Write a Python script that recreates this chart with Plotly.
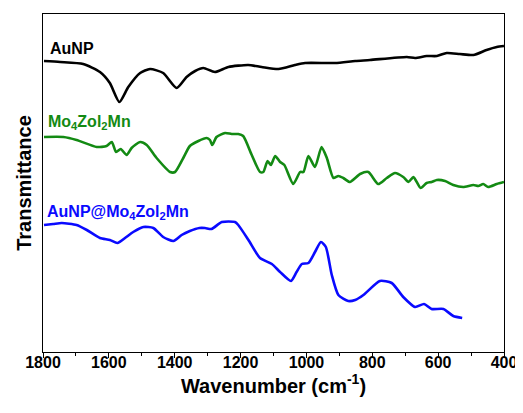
import plotly.graph_objects as go

# AuNP spectrum (wavenumber cm-1, transmittance a.u.)
aunp_wn = [1797, 1748, 1678, 1627, 1597, 1568, 1541, 1505, 1475, 1435, 1394, 1364, 1338, 1313,
           1278, 1237, 1177, 1136, 1085, 1035, 1004, 913, 852, 807, 695, 670, 635, 604, 574,
           534, 493, 453, 422, 400]
aunp_t = [291, 290, 288, 280, 269, 250, 265, 279, 283, 279, 264, 275, 281, 284,
          280, 285, 287, 285, 283, 287, 289, 289, 291, 292, 295, 294, 296, 296, 299,
          298, 297, 302, 305, 306]

# Mo4Zol2Mn spectrum
mo_wn = [1797, 1738, 1698, 1637, 1607, 1591, 1578, 1564, 1546, 1531, 1505, 1485, 1455, 1414,
         1399, 1374, 1354, 1328, 1303, 1293, 1286, 1273, 1247, 1227, 1207, 1192, 1166, 1141,
         1131, 1118, 1108, 1095, 1080, 1067, 1040, 1019, 1009, 994, 974, 954, 938, 918, 903,
         888, 868, 837, 812, 782, 756, 731, 706, 690, 675, 653, 635, 620, 604, 579, 554, 524,
         493, 478, 463, 448, 422, 400]
mo_t = [215, 215, 212, 205, 206, 210, 200, 203, 197, 204, 210, 207, 194, 180,
        180, 194, 206, 211, 214, 212, 207, 215, 219, 218, 218, 216, 197, 180,
        180, 191, 187, 196, 190, 187, 168, 180, 180, 196, 185, 205, 194, 174, 176,
        174, 170, 178, 180, 168, 174, 179, 175, 170, 175, 164, 169, 170, 172, 171, 167, 165,
        167, 166, 168, 165, 168, 170]

# AuNP@Mo4Zol2Mn spectrum
comp_wn = [1797, 1769, 1743, 1698, 1667, 1627, 1597, 1574, 1551, 1526, 1495, 1465, 1435, 1404,
           1379, 1354, 1325, 1308, 1288, 1257, 1217, 1207, 1176, 1141, 1105, 1080, 1047, 1030,
           1014, 994, 974, 956, 941, 923, 903, 873, 852, 827, 777, 741, 706, 670, 643, 620,
           584, 554, 527]
comp_t = [127, 128, 129, 127, 122, 114, 112, 109, 114, 120, 125, 124, 115, 111,
          117, 121, 124, 124, 123, 130, 130, 127, 112, 94, 88, 80, 71, 80,
          88, 89, 100, 110, 105, 77, 57, 51, 52, 57, 71, 69, 55, 45, 48, 43,
          43, 36, 34]

tick_vals = [1800, 1600, 1400, 1200, 1000, 800, 600, 400]

series = [
    ("AuNP", aunp_wn, aunp_t, "#000000"),
    ("Mo<sub>4</sub>Zol<sub>2</sub>Mn", mo_wn, mo_t, "#138a13"),
    ("AuNP@Mo<sub>4</sub>Zol<sub>2</sub>Mn", comp_wn, comp_t, "#0a0aff"),
]

fig = go.Figure()
for name, x, y, c in series:
    fig.add_trace(go.Scatter(x=x, y=y, mode="lines", name=name,
                             line=dict(color=c, width=2.6, shape="spline", smoothing=0.6)))

label_pos = [(1780, 304), (1785, 230), (1787, 140)]
for (name, x, y, c), (lx, ly) in zip(series, label_pos):
    fig.add_annotation(x=lx, y=ly, xref="x", yref="y", text="<b>" + name + "</b>",
                       showarrow=False, xanchor="left", yanchor="middle", xshift=-2,
                       font=dict(family="Liberation Sans, Arial", size=16, color=c))

# page body has an 8px margin, so the figure is sized/offset to compensate
fig.update_layout(
    width=515, height=405,
    margin=dict(l=35, r=19, t=6, b=61),
    paper_bgcolor="white", plot_bgcolor="white",
    showlegend=False,
    font=dict(family="Liberation Sans, Arial", color="black"),
    xaxis=dict(range=[1800, 400], tickvals=tick_vals,
               ticktext=["<b>%d</b>" % v for v in tick_vals],
               ticks="outside", ticklen=5, tickwidth=1.2, tickcolor="black",
               ticklabelstandoff=-9,
               minor=dict(dtick=100, tick0=0, ticks="outside", ticklen=3, tickcolor="black"),
               showline=True, linecolor="black", linewidth=1.3, mirror=True,
               showgrid=False, zeroline=False, automargin=False,
               tickfont=dict(size=16),
               title=dict(text="<b>Wavenumber (cm<sup>-1</sup>)</b>", font=dict(size=20), standoff=0)),
    yaxis=dict(range=[0, 338], showticklabels=False, ticks="",
               showline=True, linecolor="black", linewidth=1.3, mirror=True,
               showgrid=False, zeroline=False, automargin=False,
               title=dict(text="<b>Transmittance</b>", font=dict(size=20), standoff=4)),
)

fig.write_html("out.html")
